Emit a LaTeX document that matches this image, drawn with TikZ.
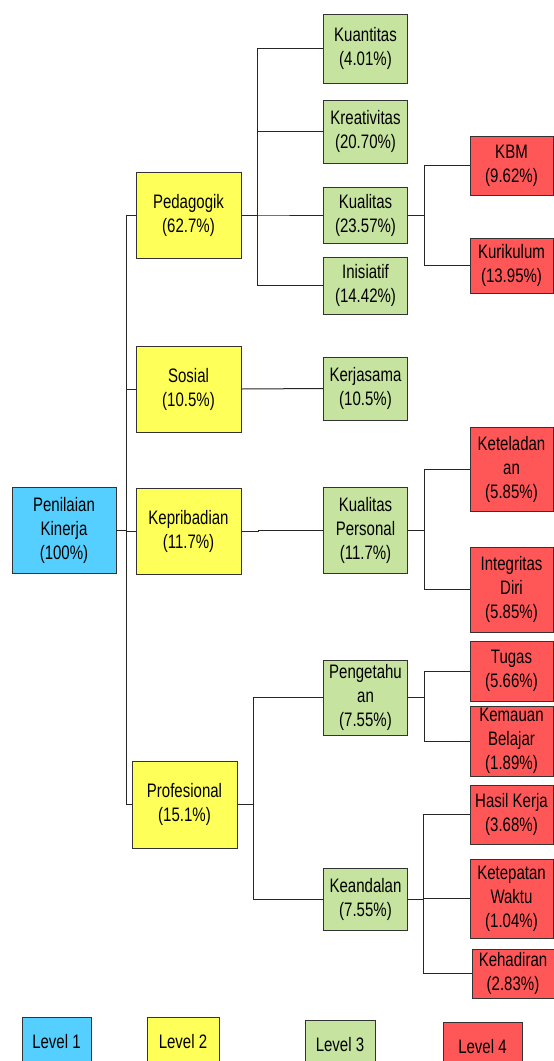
\documentclass[tikz,border=0pt]{standalone}
\usepackage{fontspec}
\setmainfont{Liberation Sans}[FakeStretch=0.77]
\usepackage{tikz}
\definecolor{lvlone}{HTML}{55CFFF}
\definecolor{lvltwo}{HTML}{FFFF5A}
\definecolor{lvlthree}{HTML}{C6E39F}
\definecolor{lvlfour}{HTML}{FF5757}

\tikzset{
  box/.style={draw=black!80, line width=1pt, inner sep=0pt, align=center,
    font=\fontsize{19.5}{24}\selectfont},
  lvlA/.style={box, fill=lvlone, minimum width=104},
  lvlB/.style={box, fill=lvltwo, minimum width=105},
  lvlC/.style={box, fill=lvlthree, minimum width=84},
  lvlD/.style={box, fill=lvlfour, minimum width=83},
  conn/.style={draw=black!85, line width=1pt}
}

\begin{document}
\begin{tikzpicture}[x=1pt, y=-1pt]
        \useasboundingbox (0,0) rectangle (554,1061);
        \clip (0,0) rectangle (554,1061);
        % level 1 and 2
        \node[lvlA, minimum height=86] (root) at (64,530)   {Penilaian\\Kinerja\\(100\%)};
        \node[lvlB, minimum height=86] (ped)  at (188.5,215) {Pedagogik\\(62.7\%)};
        \node[lvlB, minimum height=86] (sos)  at (188.5,389) {Sosial\\(10.5\%)};
        \node[lvlB, minimum height=86] (kep)  at (188.5,531) {Kepribadian\\(11.7\%)};
        \node[lvlB, minimum height=87] (prof) at (184.5,804.5) {Profesional\\(15.1\%)};
        % level 3
        \node[lvlC, minimum height=69] (kuan)  at (365.5,48.5)  {Kuantitas\\(4.01\%)};
        \node[lvlC, minimum height=63] (krea)  at (365.5,131.5) {Kreativitas\\(20.70\%)};
        \node[lvlC, minimum height=56] (kual)  at (365.5,215)   {Kualitas\\(23.57\%)};
        \node[lvlC, minimum height=57] (inis)  at (365.5,285.5) {Inisiatif\\(14.42\%)};
        \node[lvlC, minimum height=63] (kerja) at (365.5,388.5) {Kerjasama\\(10.5\%)};
        \node[lvlC, minimum height=86] (kper)  at (365.5,530)   {Kualitas\\Personal\\(11.7\%)};
        \node[lvlC, minimum height=75] (peng)  at (365.5,697.5) {Pengetahu\\an\\(7.55\%)};
        \node[lvlC, minimum height=62] (kand)  at (365.5,899)   {Keandalan\\(7.55\%)};
        % level 4
        \node[lvlD, minimum height=59] (kbm)   at (511.5,165.5) {KBM\\(9.62\%)};
        \node[lvlD, minimum height=55] (kur)   at (511.5,265.5) {Kurikulum\\(13.95\%)};
        \node[lvlD, minimum height=84] (tel)   at (511.5,469)   {Keteladan\\an\\(5.85\%)};
        \node[lvlD, minimum height=85] (integ) at (511.5,589.5) {Integritas\\Diri\\(5.85\%)};
        \node[lvlD, minimum height=60] (tug)   at (511.5,671)   {Tugas\\(5.66\%)};
        \node[lvlD, minimum height=70] (kem)   at (511.5,741)   {Kemauan\\Belajar\\(1.89\%)};
        \node[lvlD, minimum height=59] (has)   at (511.5,814.5) {Hasil Kerja\\(3.68\%)};
        \node[lvlD, minimum height=79] (tep)   at (511.5,898.5) {Ketepatan\\Waktu\\(1.04\%)};
        \node[lvlD, minimum height=49, minimum width=82] (hadir) at (513,973.5) {Kehadiran\\(2.83\%)};
        % bus points
        \coordinate (rootbus) at (126,530);
        \coordinate (pedbus)  at (257,215);
        \coordinate (profbus) at (253,804.5);
        \coordinate (kualbus) at (424,215);
        \coordinate (kperbus) at (424,530);
        \coordinate (pengbus) at (424,697.5);
        \coordinate (kandbus) at (423,899);
        % connectors
        \foreach \n in {ped,sos,kep,prof}
            \draw[conn] (root.east) -| (rootbus) |- (\n.west);
        \foreach \n in {kuan,krea,kual,inis}
            \draw[conn] (ped.east) -| (pedbus) |- (\n.west);
        \draw[conn] (sos.east) -- (kerja.west);
        \draw[conn] (kep.east) -- ++(17,0) |- (kper.west);
        \foreach \n in {peng,kand}
            \draw[conn] (prof.east) -| (profbus) |- (\n.west);
        \foreach \n in {kbm,kur}
            \draw[conn] (kual.east) -| (kualbus) |- (\n.west);
        \foreach \n in {tel,integ}
            \draw[conn] (kper.east) -| (kperbus) |- (\n.west);
        \foreach \n in {tug,kem}
            \draw[conn] (peng.east) -| (pengbus) |- (\n.west);
        \foreach \n in {has,tep,hadir}
            \draw[conn] (kand.east) -| (kandbus) |- (\n.west);
        % legend
        \node[lvlA, minimum width=69, minimum height=50] (keyA) at (56.5,1042) {Level 1};
        \node[lvlB, minimum width=72, minimum height=50] (keyB) at (183,1042)  {Level 2};
        \node[lvlC, minimum width=70, minimum height=50] (keyC) at (340,1045)  {Level 3};
        \node[lvlD, minimum width=79, minimum height=50] (keyD) at (482.5,1047) {Level 4};
    \end{tikzpicture}
\end{document}
